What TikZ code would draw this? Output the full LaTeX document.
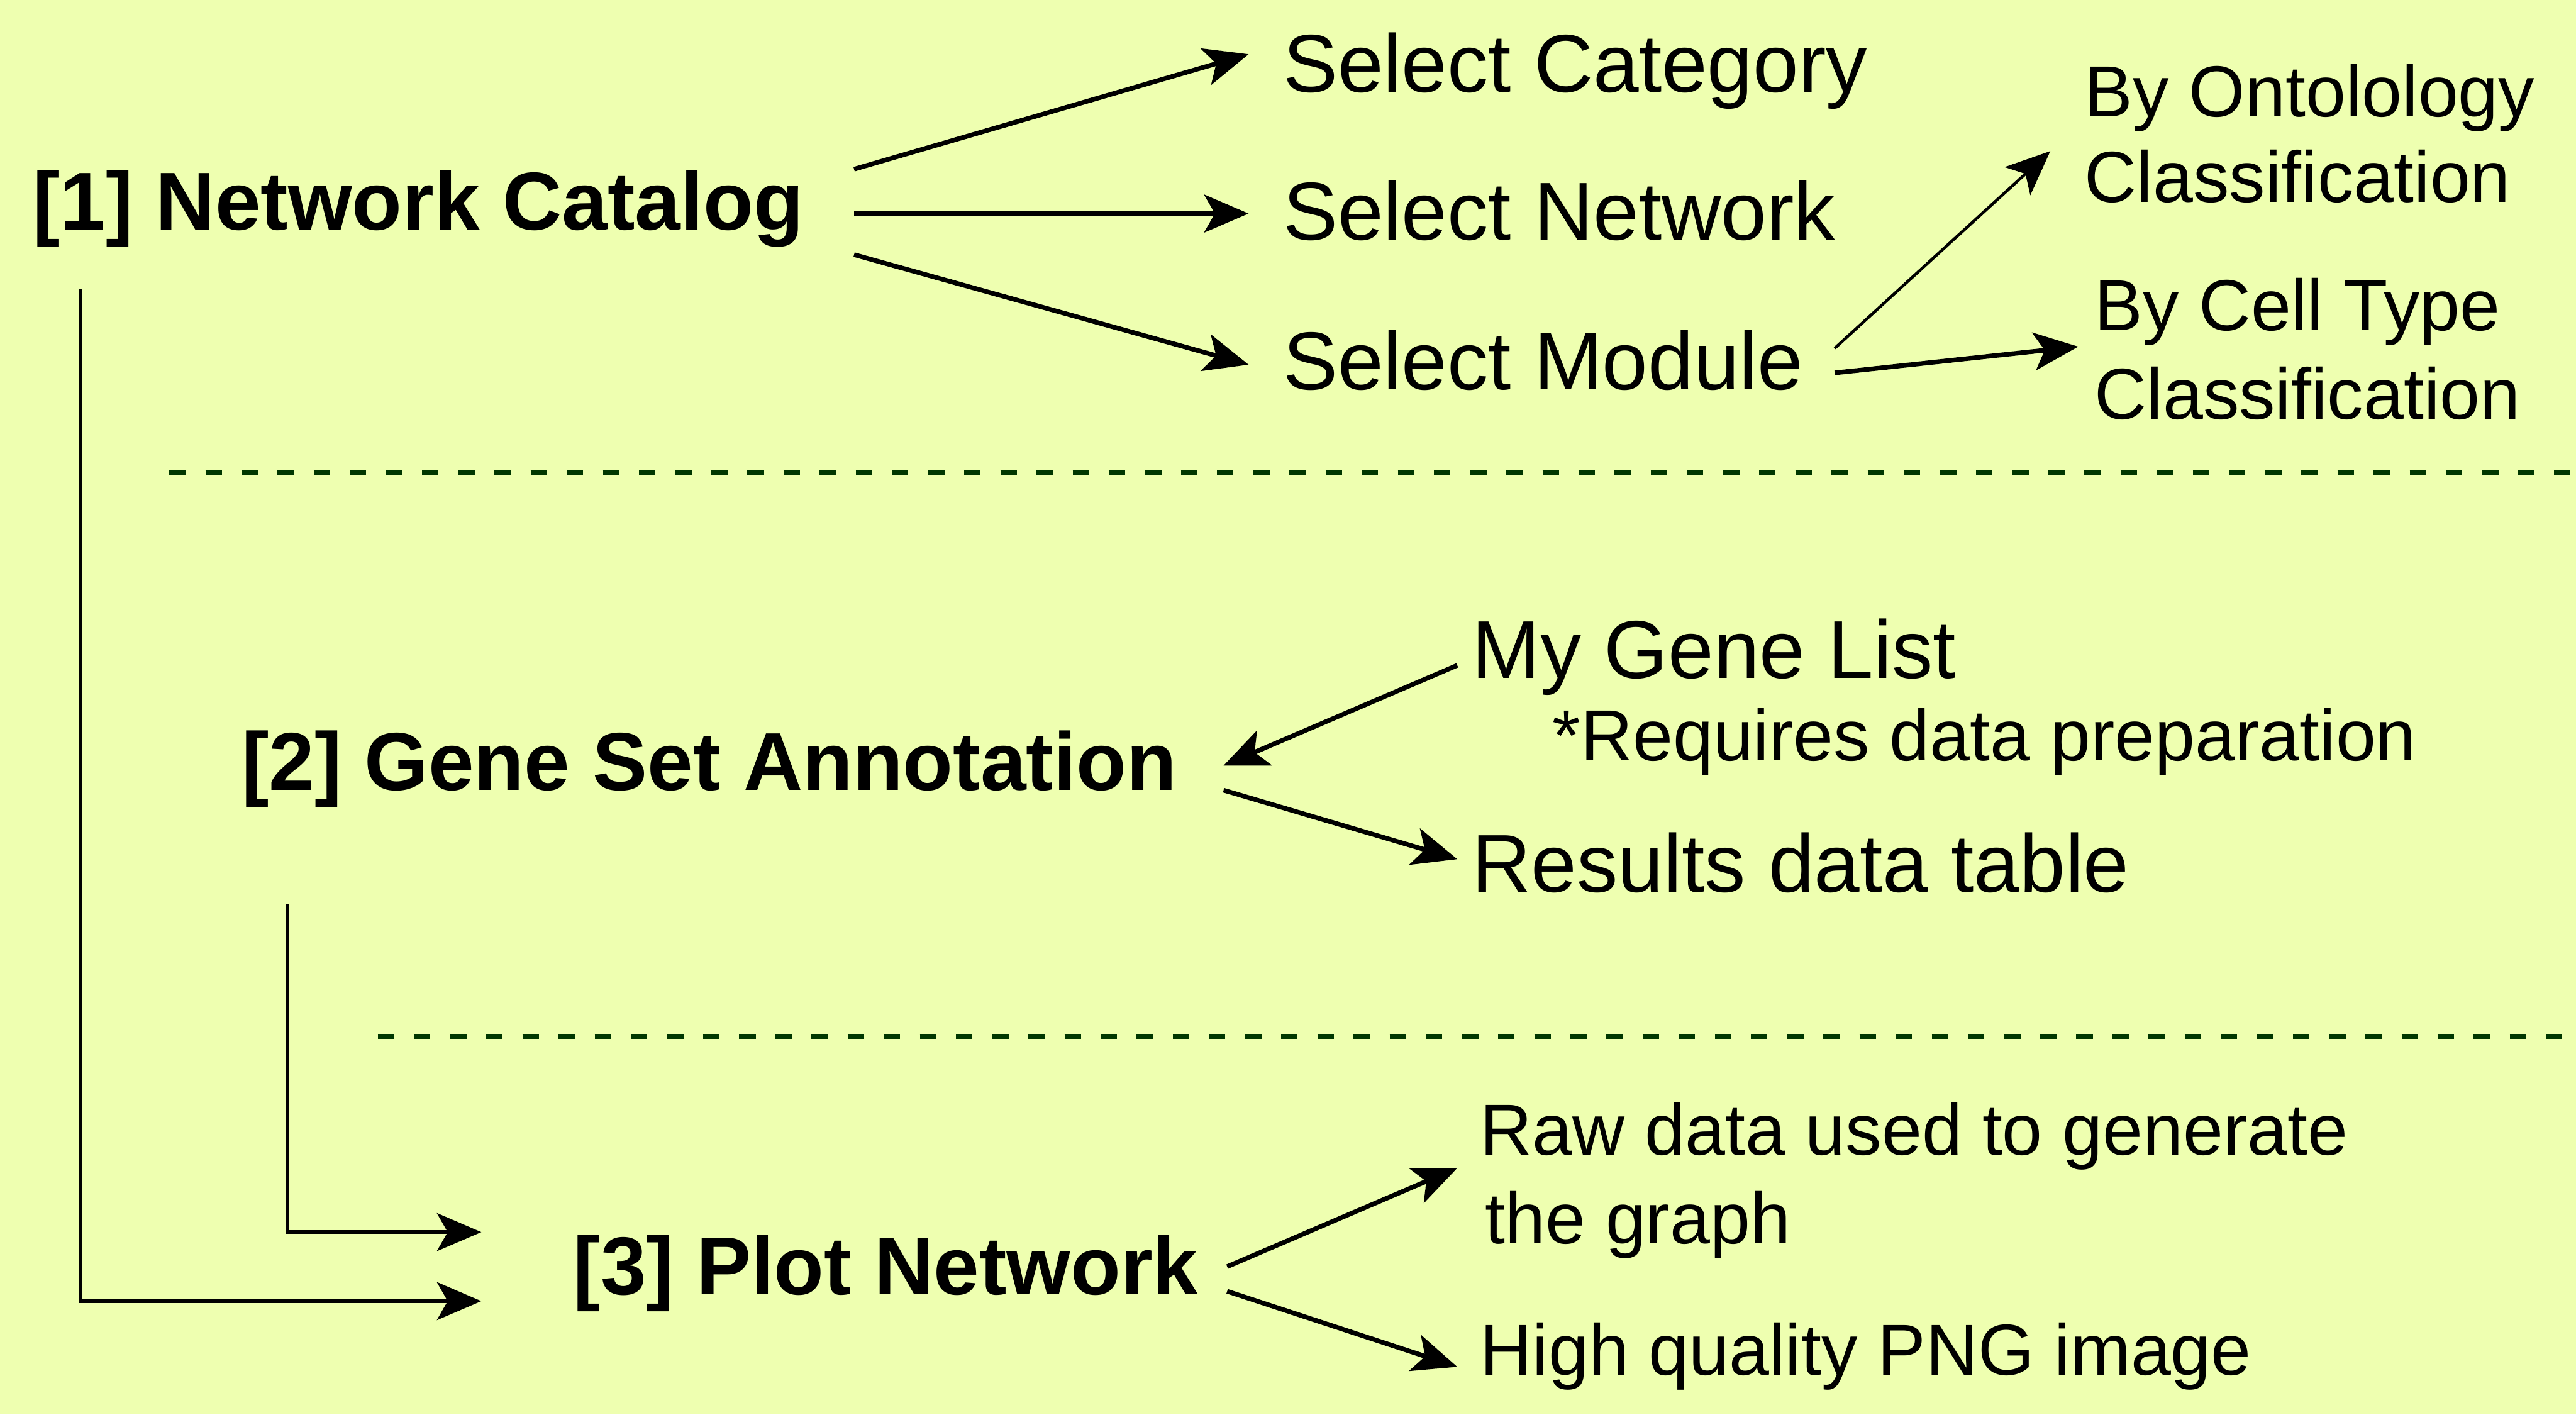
\documentclass[tikz,border=0pt]{standalone}
\usepackage{fontspec}
\setmainfont{Liberation Sans}
\usetikzlibrary{arrows.meta}
\definecolor{bg}{RGB}{238,255,176}
\definecolor{dashgreen}{RGB}{0,55,0}
\begin{document}
\begin{tikzpicture}[x=0.02cm,y=-0.02cm,
  txt/.style={inner sep=0pt, outer sep=0pt, anchor=base west, font=\fontsize{28.45pt}{34pt}\selectfont},
  btxt/.style={txt, font=\fontsize{28.45pt}{34pt}\selectfont\bfseries},
  stxt/.style={txt, font=\fontsize{25.04pt}{30pt}\selectfont},
  arr/.style={line width=1.6pt, -{Stealth[length=0.54cm,width=0.46cm,inset=0.13cm]}},
  thinarr/.style={arr, line width=1.0pt},
  elbow/.style={arr, line width=1.3pt},
  sep/.style={dashgreen, line width=1.8pt, dash pattern=on 0.2cm off 0.24cm}]
\fill[bg] (0,0) rectangle (1568,861);
\useasboundingbox (0,0) rectangle (1568,861);

% section 1
\node[btxt] (nc) at (20,140) {[1] Network Catalog};
\node[txt] (cat) at (781,56) {Select Category};
\node[txt] (net) at (781,146) {Select Network};
\node[txt] (mod) at (781,237) {Select Module};
\node[stxt] (ont1) at (1269,71) {By Ontolology};
\node[stxt] (ont2) at (1269,123) {Classification};
\node[stxt] (cell1) at (1275,201) {By Cell Type};
\node[stxt] (cell2) at (1275,255) {Classification};

\draw[arr] ([shift={(30.5,-37)}]nc.base east) -- ([shift={(-21,-23)}]cat.base west);
\draw[arr] ([shift={(30.5,-10)}]nc.base east) -- ([shift={(-21,-16)}]net.base west);
\draw[arr] ([shift={(30.5,15)}]nc.base east) -- ([shift={(-21,-15)}]mod.base west);
\draw[thinarr] ([shift={(19,-25)}]mod.base east) -- ([shift={(-21,21)}]ont1.base west);
\draw[arr] ([shift={(19,-10)}]mod.base east) -- ([shift={(-10,10)}]cell1.base west);

% separators
\draw[sep] (103,288) -- (1568,288);
\draw[sep] (230,631) -- (1568,631);

% section 2
\node[btxt] (gsa) at (147,481) {[2] Gene Set Annotation};
\node[txt] (gene) at (896,413) {My Gene List};
\node[stxt] (req) at (945,463) {*Requires data preparation};
\node[txt] (res) at (896,543) {Results data table};

\draw[arr] ([shift={(-9,-8)}]gene.base west) -- ([shift={(28.5,-15)}]gsa.base east);
\draw[arr] ([shift={(28.5,0)}]gsa.base east) -- ([shift={(-9,-20)}]res.base west);

% section 3
\node[btxt] (plot) at (349,788) {[3] Plot Network};
\node[stxt] (raw1) at (901,703) {Raw data used to generate};
\node[stxt] (raw2) at (904,757) {the graph};
\node[stxt] (png) at (901,837) {High quality PNG image};

\draw[arr] ([shift={(17.5,-17)}]plot.base east) -- ([shift={(-14,8)}]raw1.base west);
\draw[arr] ([shift={(17.5,-2)}]plot.base east) -- ([shift={(-14,-5)}]png.base west);

% elbow connectors
\draw[elbow] ([shift={(29,36)}]nc.base west) |- ([shift={(-56,4)}]plot.base west);
\draw[elbow] ([shift={(28,69)}]gsa.base west) |- ([shift={(-56,-38)}]plot.base west);
\end{tikzpicture}
\end{document}
